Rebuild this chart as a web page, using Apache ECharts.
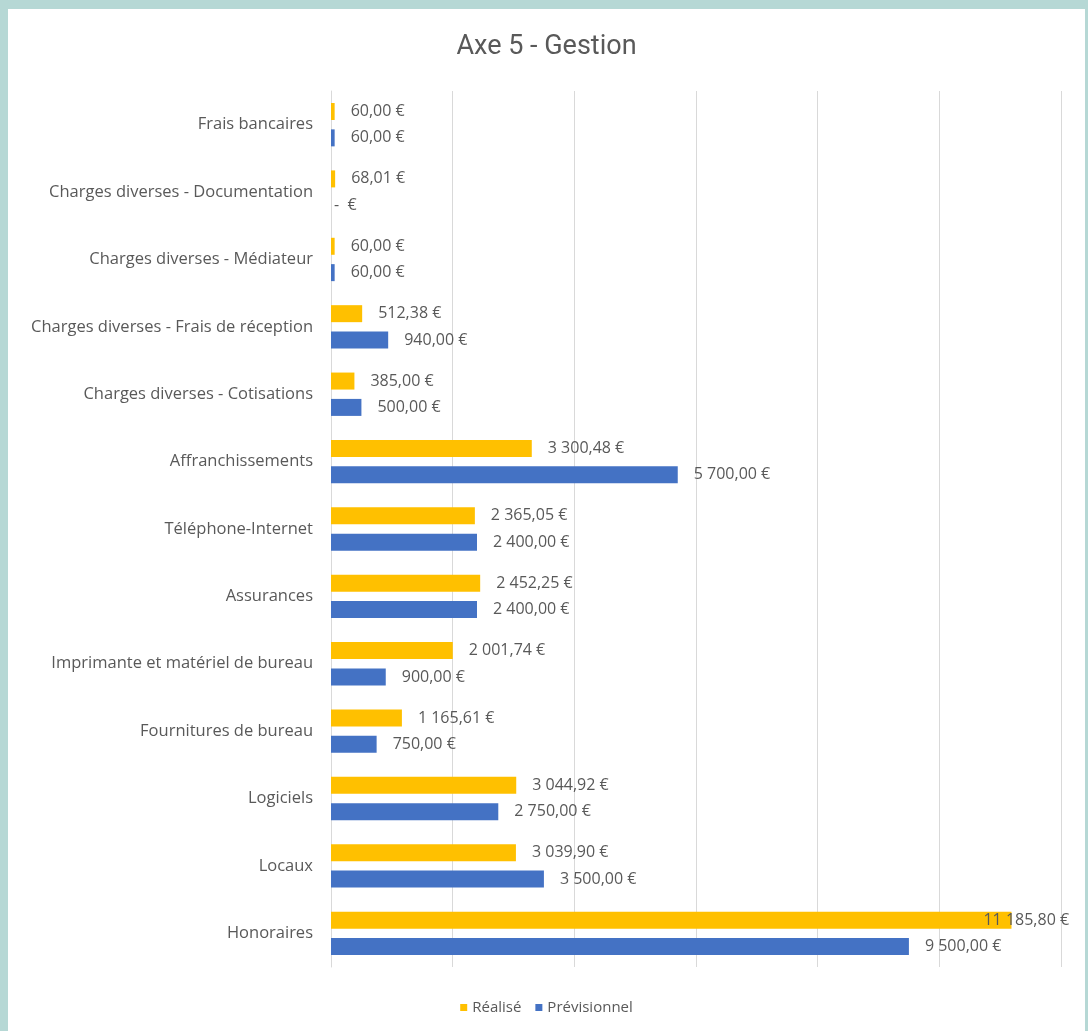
<!DOCTYPE html>
<html>
<head>
<meta charset="utf-8">
<title>Axe 5 - Gestion</title>
<script src="https://cdn.jsdelivr.net/npm/echarts@6/dist/echarts.min.js"></script>
<style>
  html, body {
    margin: 0;
    padding: 0;
    width: 1088px;
    height: 1031px;
    background: #b6d8d5;
    overflow: hidden;
  }
  #chart {
    position: absolute;
    left: 8px;
    top: 9px;
    width: 1077px;
    height: 1022px;
    background: #ffffff;
  }
</style>
</head>
<body>
<div id="chart"></div>
<script>
// categories, top to bottom
const categories = [
  'Frais bancaires',
  'Charges diverses - Documentation',
  'Charges diverses - Médiateur',
  'Charges diverses - Frais de réception',
  'Charges diverses - Cotisations',
  'Affranchissements',
  'Téléphone-Internet',
  'Assurances',
  'Imprimante et matériel de bureau',
  'Fournitures de bureau',
  'Logiciels',
  'Locaux',
  'Honoraires'
]
const realise = [60, 68.01, 60, 512.38, 385, 3300.48, 2365.05, 2452.25, 2001.74, 1165.61, 3044.92, 3039.9, 11185.8]
const previsionnel = [60, 0, 60, 940, 500, 5700, 2400, 2400, 900, 750, 2750, 3500, 9500]
const seriesNames = ['Réalisé', 'Prévisionnel']

const textColor = '#595959'
const font = '"Open Sans", "Noto Sans", sans-serif'

// format euros the french way: 11 185,80 €
function euro (v) {
  if (v === 0) return '-  €'
  const parts = v.toFixed(2).split('.')
  const int = parts[0].replace(/\B(?=(\d{3})+(?!\d))/g, ' ')
  return int + ',' + parts[1] + ' €'
}

// labels near the right edge are pulled back, zero labels sit on the axis
function toData (arr) {
  return arr.map(v => {
    const item = { value: v }
    if (v === 0) item.label = { distance: 3 }
    if (v > 10500) item.label = { offset: [-44, 0] }
    return item
  })
}

const chart = echarts.init(document.getElementById('chart'))
chart.setOption({
  animation: false,
  title: {
    text: 'Axe 5 - Gestion',
    left: 'center',
    top: 20,
    textStyle: {
      color: textColor,
      fontFamily: 'Roboto, sans-serif',
      fontSize: 27,
      fontWeight: 'normal'
    }
  },
  legend: {
    data: seriesNames,
    bottom: 11,
    left: 'center',
    itemWidth: 7,
    itemHeight: 7,
    itemGap: 14,
    icon: 'rect',
    textStyle: {
      color: textColor,
      fontFamily: font,
      fontSize: 15
    }
  },
  grid: {
    left: 323,
    right: 24,
    top: 82,
    bottom: 64
  },
  xAxis: {
    type: 'value',
    min: 0,
    max: 12000,
    interval: 2000,
    axisLabel: { show: false },
    axisLine: { show: false },
    axisTick: { show: false },
    splitLine: {
      lineStyle: { color: '#d9d9d9', width: 1 }
    }
  },
  yAxis: {
    type: 'category',
    inverse: true,
    data: categories,
    axisLine: {
      lineStyle: { color: '#d9d9d9' }
    },
    axisTick: {
      length: 7,
      lineStyle: { color: '#d9d9d9' }
    },
    axisLabel: {
      color: textColor,
      fontFamily: font,
      fontSize: 16.5,
      margin: 18
    }
  },
  series: [
    {
      name: seriesNames[0],
      type: 'bar',
      data: toData(realise),
      barWidth: 17,
      barGap: '55%',
      itemStyle: { color: '#ffc000' },
      label: {
        show: true,
        position: 'right',
        distance: 16,
        color: textColor,
        fontFamily: font,
        fontSize: 16,
        formatter: p => euro(p.value)
      }
    },
    {
      name: seriesNames[1],
      type: 'bar',
      data: toData(previsionnel),
      barWidth: 17,
      itemStyle: { color: '#4472c4' },
      label: {
        show: true,
        position: 'right',
        distance: 16,
        color: textColor,
        fontFamily: font,
        fontSize: 16,
        formatter: p => euro(p.value)
      }
    }
  ]
})
</script>
</body>
</html>
